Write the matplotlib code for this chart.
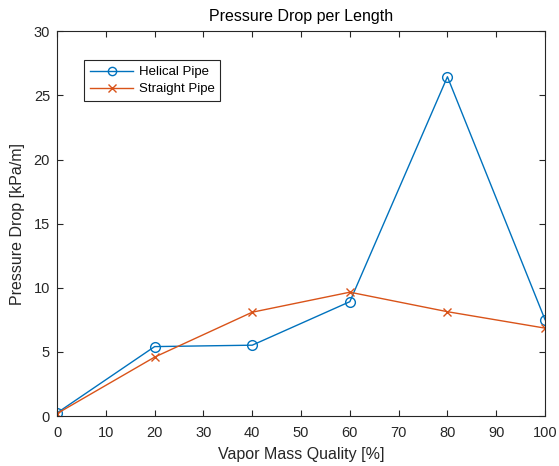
import matplotlib
matplotlib.use("Agg")
import matplotlib.pyplot as plt

plt.rcParams['font.family'] = ['Liberation Sans', 'DejaVu Sans']

quality = [0, 20, 40, 60, 80, 100]
helical = [0.25, 5.42, 5.53, 8.92, 26.45, 7.52]
straight = [0.2, 4.6, 8.1, 9.66, 8.14, 6.86]
xticks = list(range(0, 101, 10))
yticks = list(range(0, 31, 5))

fig = plt.figure(figsize=(5.59, 4.66), dpi=100)
ax = fig.add_axes([0.102, 0.107, 0.873, 0.826])
ax.plot(quality, helical, color='#0072BD', marker='o', markersize=7,
        markerfacecolor='none', linewidth=1, label='Helical Pipe')
ax.plot(quality, straight, color='#D95319', marker='x', markersize=6,
        linewidth=1, label='Straight Pipe')
ax.set_xlim(0, 100)
ax.set_ylim(0, 30)
ax.set_xticks(xticks)
ax.set_yticks(yticks)
ax.tick_params(direction='in', length=4, labelsize=10.5, colors='#262626',
               top=True, right=True, labeltop=False, labelright=False)
ax.tick_params(axis='x', pad=7)
ax.tick_params(axis='y', pad=5)
for s in ax.spines.values():
    s.set_color('#262626')
    s.set_linewidth(0.8)
ax.set_xlabel('Vapor Mass Quality [%]', fontsize=11.5, color='#262626', labelpad=5)
ax.set_ylabel('Pressure Drop [kPa/m]', fontsize=11.5, color='#262626', labelpad=6)
ax.set_title('Pressure Drop per Length', fontsize=11.5, color='black', pad=7)
leg = ax.legend(loc='upper left', bbox_to_anchor=(0.055, 0.925), borderaxespad=0,
                fontsize=9.5, fancybox=False, edgecolor='#262626', framealpha=1,
                handlelength=3.3, handletextpad=0.4, borderpad=0.45, labelspacing=0.35,
                markerscale=0.85)
leg.get_frame().set_linewidth(0.8)
fig.savefig('out.png', dpi=100)
